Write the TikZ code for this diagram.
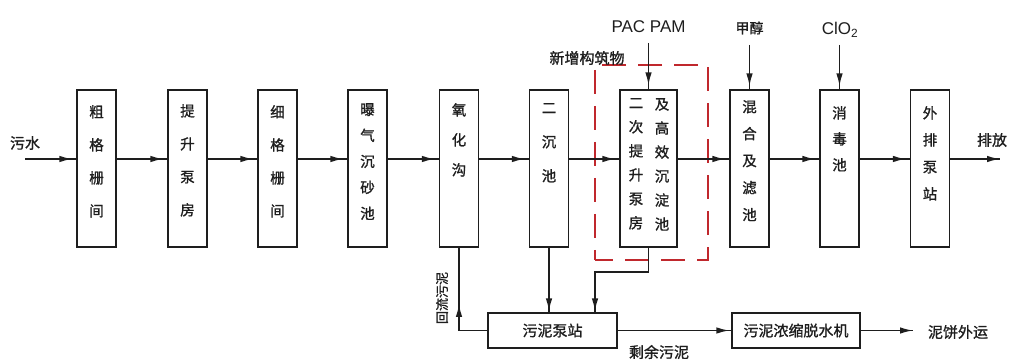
\documentclass[tikz,border=0pt]{standalone}
\usepackage{fontspec}
\setmainfont{Liberation Sans}
\newfontfamily\cjk{Noto Sans CJK SC}[FakeBold=1.2]
\usetikzlibrary{arrows.meta,decorations.markings}
\definecolor{ink}{HTML}{1E1E1E}
\definecolor{newred}{HTML}{C0282D}
\begin{document}
\begin{tikzpicture}[x=1pt,y=-1pt,
  box/.style={draw=ink, line width=1.2pt, minimum width=39pt, minimum height=157pt, inner sep=0pt},
  hbox/.style={draw=ink, line width=1.2pt, minimum height=35pt, inner sep=0pt, font=\cjk\fontsize{15}{15}\selectfont, text=ink},
  vtext/.style={anchor=north, inner sep=0pt, align=center, text width=16pt, text=ink, font=\cjk\fontsize{14.5}{#1}\selectfont},
  vtext/.default=30pt,
  lbl/.style={inner sep=0pt, text=ink, font=\cjk\fontsize{15}{15}\selectfont},
  chem/.style={inner sep=0pt, text=ink, font=\fontsize{17}{17}\selectfont},
  flow/.style={line width=1.6pt, draw=ink, postaction={decorate},
    decoration={markings, mark=at position #1 with {\arrow{Latex[length=13pt,width=6.5pt]}}}},
  flow/.default=-4pt,
  newbox/.style={draw=newred, line width=1.8pt, dash pattern=on 24pt off 12pt, dash phase=6pt, inner sep=0pt}
]
\useasboundingbox (0,0) rectangle (1011,363);

% process boxes
\node[box] (b1) at (96.5,168.5) {};
\node[box] (b2) at (187.5,168.5) {};
\node[box] (b3) at (277.5,168.5) {};
\node[box] (b4) at (367.5,168.5) {};
\node[box] (b5) at (459,168.5) {};
\node[box] (b6) at (549,168.5) {};
\node[box, minimum width=57pt] (b7) at (648.5,168.5) {};
\node[box] (b8) at (749.5,168.5) {};
\node[box] (b9) at (839.5,168.5) {};
\node[box] (b10) at (930,168.5) {};

% box texts
\node[vtext=33pt] (t1) at (96.5,105) {粗\\格\\栅\\间};
\node[vtext=33pt] (t2) at (187.5,104) {提\\升\\泵\\房};
\node[vtext=33pt] (t3) at (277.5,105) {细\\格\\栅\\间};
\node[vtext=26pt] (t4) at (367.5,103) {曝\\气\\沉\\砂\\池};
\node[vtext=30pt] (t5) at (459,103) {氧\\化\\沟};
\node[vtext=34pt] (t6) at (549,103) {二\\沉\\池};
\node[vtext=24pt] (t7a) at (636,98) {二\\次\\提\\升\\泵\\房};
\node[vtext=24pt] (t7b) at (662,98) {及\\高\\效\\沉\\淀\\池};
\node[vtext=27pt] (t8) at (749.5,100) {混\\合\\及\\滤\\池};
\node[vtext=26pt] (t9) at (839.5,106) {消\\毒\\池};
\node[vtext=27pt] (t10) at (930,106) {外\\排\\泵\\站};

% new structure frame
\node[newbox, minimum width=113pt, minimum height=195pt] (nb) at (651.5,162.5) {};
\node[lbl] (nbl) at (587,58) {新增构筑物};

% main flow
\coordinate (fy) at (0,159);
\coordinate (in) at (25,159);
\coordinate (out) at (1000,159);
\node[lbl] (ws) at (25,143) {污水};
\node[lbl] (pf) at (992,140) {排放};
\draw[flow] (in) -- (b1.west |- fy);
\foreach \a/\b in {b1/b2,b2/b3,b3/b4,b4/b5,b5/b6,b6/b7,b7/b8,b8/b9,b9/b10}
  \draw[flow] (\a.east |- fy) -- (\b.west |- fy);
\draw[flow=1] (b10.east |- fy) -- (out);

% chemical dosing
\node[chem] (pac) at (648.5,27) {PAC PAM};
\node[lbl, font=\cjk\fontsize{14}{14}\selectfont] (jc) at (749.5,28) {甲醇};
\node[chem] (clo) at (840,30) {ClO\textsubscript{2}};
\coordinate (d1) at (648.5,43);
\coordinate (d2) at (749.5,45);
\coordinate (d3) at (839.5,45);
\draw[flow] (d1) -- (b7.north);
\draw[flow=-3pt] (d2) -- (b8.north);
\draw[flow=-3pt] (d3) -- (b9.north);

% sludge line
\node[hbox, minimum width=129pt] (pump) at (552.5,330.5) {污泥泵站};
\node[hbox, minimum width=128pt] (dw) at (796,330.5) {污泥浓缩脱水机};
\coordinate (rc) at (459,330.5);
\coordinate (k) at (595,272);
\coordinate (cake) at (913,330.5);
\draw[flow=55pt] (pump.west) -- (rc) -- (b5.south);
\draw[flow=-1pt] (b6.south) -- (b6.south |- pump.north);
\draw[flow=-1pt] (b7.south) -- (b7.south |- k) -- (k) -- (k |- pump.north);
\draw[flow=-2pt] (pump.east) -- (dw.west);
\draw[flow=1] (dw.east) -- (cake);
\node[lbl] (nb2) at (958,332) {泥饼外运};
\node[lbl] (sy) at (659,352) {剩余污泥};
\node[lbl, rotate=90, font=\cjk\fontsize{13}{13}\selectfont] (hl) at (442,298) {回流污泥};
\end{tikzpicture}
\end{document}
